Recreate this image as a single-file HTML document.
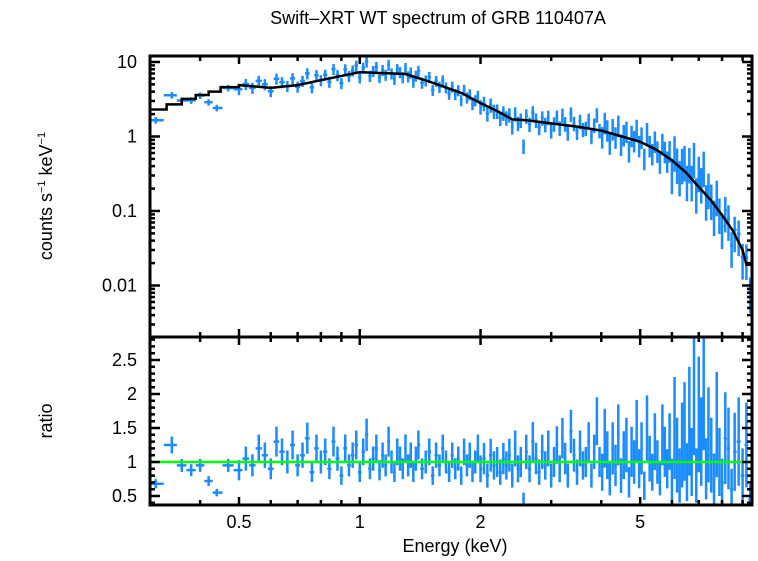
<!DOCTYPE html>
<html><head><meta charset="utf-8"><style>
body{margin:0;background:#fff}
svg text{font-family:"Liberation Sans",sans-serif;fill:#000}
</style></head><body>
<svg id="c" width="758" height="556" xmlns="http://www.w3.org/2000/svg">
<text x="438" y="24" font-size="18" text-anchor="middle">Swift–XRT WT spectrum of GRB 110407A</text>
<text transform="translate(52,196) rotate(-90)" font-size="18" text-anchor="middle">counts s<tspan font-size="11" dy="-7">−1</tspan><tspan dy="7"> keV</tspan><tspan font-size="11" dy="-7">−1</tspan></text>
<text transform="translate(52,421) rotate(-90)" font-size="18" text-anchor="middle">ratio</text>
<text x="455" y="552" font-size="18" text-anchor="middle">Energy (keV)</text>
<g id="g"></g>
</svg>
<script>
const modelE=[0.3,0.33,0.36,0.39,0.42,0.45,0.5,0.6,0.7,0.8,1.0,1.3,1.5,1.8,2.0,2.2,2.4,2.6,3.0,3.5,4.0,4.5,5.0,5.5,6.0,6.5,7.0,7.5,8.0,8.5,9.0,9.2,9.3,9.5];
const modelV=[2.3,2.7,3.2,3.6,4.0,4.6,4.9,4.5,4.9,5.7,7.3,6.9,5.4,3.8,2.8,2.2,1.7,1.65,1.5,1.35,1.2,1.0,0.85,0.66,0.48,0.33,0.21,0.14,0.088,0.055,0.03,0.019,0.019,0.019];
const dataE=[0.31,0.34,0.36,0.38,0.40,0.42,0.44,0.47,0.50,
0.52,0.54,0.56,0.58,0.60,0.62,0.64,0.66,0.68,0.70,
0.72,0.74,0.76,0.78,0.80,0.82,0.84,0.86,0.88,0.90,
0.92,0.94,0.96,0.98,1.00,1.02,1.04,1.06,1.08,1.10,
1.12,1.14,1.16,1.18,1.20,1.22,1.24,1.26,1.28,1.30,
1.32,1.34,1.36,1.38,1.40,1.43,1.46,1.49,1.52,1.55,
1.58,1.61,1.64,1.67,1.70,1.73,1.76,1.79,1.82,1.85,
1.88,1.91,1.94,1.97,2.00,2.04,2.08,2.12,2.16,2.20,
2.24,2.28,2.32,2.36,2.40,2.44,2.48,2.52,2.56,2.60,
2.65,2.70,2.75,2.80,2.85,2.90,2.95,3.00,3.05,3.10,
3.15,3.20,3.25,3.30,3.36,3.42,3.48,3.54,3.60,3.66,
3.72,3.78,3.84,3.90,3.96,4.02,4.08,4.14,4.20,4.27,
4.34,4.41,4.48,4.55,4.62,4.69,4.76,4.83,4.90,4.97,
5.04,5.12,5.20,5.28,5.36,5.44,5.52,5.60,5.68,5.76,
5.84,5.92,6.00,6.09,6.18,6.27,6.36,6.45,6.54,6.63,
6.72,6.81,6.90,7.00,7.10,7.20,7.30,7.40,7.52,7.64,
7.76,7.88,8.00,8.15,8.30,8.45,8.60,8.80,9.00,9.20,9.40];
const dataRatio=[0.68,1.25,0.95,0.88,0.95,0.72,0.55,0.95,0.88,
1.05,0.95,1.2,1.1,0.9,1.3,1.15,1.0,1.25,0.95,
1.1,1.35,0.85,1.2,1.0,1.15,0.9,1.3,1.05,0.8,
1.2,0.95,1.1,1.25,0.85,1.15,1.4,0.9,1.05,1.2,
0.88,1.1,0.95,1.3,1.0,0.85,1.15,1.05,0.9,1.2,
0.95,1.1,0.85,1.05,1.25,0.9,1.0,1.15,0.8,1.1,
0.95,1.2,1.0,0.85,1.1,0.9,1.05,0.8,1.15,0.95,
1.1,0.85,1.0,1.2,0.9,1.05,0.8,1.1,0.95,1.0,
0.85,1.05,0.95,1.1,0.8,1.2,0.9,1.0,0.45,1.15,
0.9,1.3,1.05,0.85,1.15,0.95,1.2,0.8,1.0,1.25,
0.9,1.35,1.05,0.8,1.45,1.1,0.85,1.2,0.95,1.0,
1.3,0.8,1.15,1.6,1.0,0.85,1.35,1.1,0.75,1.2,
0.95,1.4,0.8,1.1,1.25,0.7,1.15,1.0,1.45,0.9,
1.2,0.65,1.5,1.05,0.85,1.3,1.0,0.75,1.4,1.15,
0.9,1.3,0.7,1.5,1.1,0.8,1.25,1.45,0.85,1.6,
1.0,2.2,0.8,1.7,1.3,2.35,0.9,1.4,1.1,0.75,
1.55,1.0,0.7,1.35,1.2,0.6,1.15,1.3,0.8,1.25,0.45];
const xTicks=[0.5,1,2,5];
const yTopTicks=[10,1,0.1,0.01];
const yTopLabels=["10","1","0.1","0.01"];
const yBotTicks=[0.5,1,1.5,2,2.5];
const yBotLabels=["0.5","1","1.5","2","2.5"];

const X0=150,X1=752,T0=56,T1=337,B1=505;
const lx0=Math.log10(0.3),lx1=Math.log10(9.5);
const xs=e=>X0+(Math.log10(e)-lx0)/(lx1-lx0)*(X1-X0);
const ysT=v=>62+(1-Math.log10(v))*74.5;
const ysB=v=>462-(v-1)*68;
const g=document.getElementById('g');
const NS="http://www.w3.org/2000/svg";
function el(t,a){const e=document.createElementNS(NS,t);for(const k in a)e.setAttribute(k,a[k]);g.appendChild(e);return e;}
function model(e){for(let i=0;i<modelE.length-1;i++){if(e<modelE[i+1]){const f=(Math.log(e)-Math.log(modelE[i]))/(Math.log(modelE[i+1])-Math.log(modelE[i]));return Math.exp(Math.log(modelV[i])*(1-f)+Math.log(modelV[i+1])*f);}}return modelV[modelV.length-1];}
function clipT(y){return Math.max(T0,Math.min(T1,y));}
function clipB(y){return Math.max(T1,Math.min(B1,y));}

for(let i=0;i<dataE.length;i++){
  const e=dataE[i],r=dataRatio[i];
  const lo=i>0?Math.sqrt(dataE[i-1]*e):0.3, hi=i<dataE.length-1?Math.sqrt(dataE[i+1]*e):9.5;
  const er=e<0.5?0.1:e<2?0.17:e<4?0.22:e<6?0.32:0.5;
  const c=model(e)*r;
  const p1=el('path',{d:`M${xs(lo)},${clipT(ysT(c))}H${xs(hi)}M${xs(e)},${clipT(ysT(c*(1+er)))}V${clipT(ysT(Math.max(c*(1-er),0.001)))}`,stroke:'#1a8cff','stroke-width':2.5,fill:'none'});
  
  
  const p2=el('path',{d:`M${xs(lo)},${clipB(ysB(r))}H${xs(hi)}M${xs(e)},${clipB(ysB(r+er*r))}V${clipB(ysB(r-er*r))}`,stroke:'#1a8cff','stroke-width':2.5,fill:'none'});
  
  
}
let d=`M${X0},${ysT(modelV[0])}`;
for(let i=0;i<modelE.length-1;i++){
  if(modelE[i]<0.5){d+=`H${xs(modelE[i+1])}V${ysT(modelV[i+1])}`;}
  else{d+=`L${xs(modelE[i+1])},${ysT(modelV[i+1])}`;}
}
const m=el('path',{d:d,stroke:'#000','stroke-width':2.5,fill:'none'});


const ln=el('line',{x1:X0,x2:X1,y1:ysB(1),y2:ysB(1),stroke:'#00ff00','stroke-width':2.5});



const f=el('path',{d:`M${X0},${T0}H${X1}V${B1}H${X0}Z M${X0},${T1}H${X1}`,stroke:'#000','stroke-width':3,fill:'none'});


let tk='';
for(let dec=-1;dec<=0;dec++)for(let k=1;k<=9;k++){const e=k*Math.pow(10,dec);if(e<0.3||e>9.5)continue;const x=xs(e);const L=(k===1||k===5||k===2)?8:5;
 tk+=`M${x},${T0}v${L}M${x},${B1}v-${L}M${x},${T1}v${L}M${x},${T1}v-${L}`;}
for(let dec=-3;dec<=1;dec++)for(let k=1;k<=9;k++){const v=k*Math.pow(10,dec);const y=ysT(v);if(y<T0||y>T1)continue;const L=k===1?10:5;
 tk+=`M${X0},${y}h${L}M${X1},${y}h-${L}`;}
for(let v=0.4;v<=2.81;v+=0.1){const y=ysB(v);if(y<T1||y>B1)continue;const maj=Math.abs(v*2-Math.round(v*2))<0.01;const L=maj?10:5;tk+=`M${X0},${y}h${L}M${X1},${y}h-${L}`;}
const t=el('path',{d:tk,stroke:'#000','stroke-width':2.5,fill:'none'});


xTicks.forEach(v=>{const tx=el('text',{x:xs(v),y:528,'font-size':18,'text-anchor':'middle'});tx.textContent=v;
 
 });
yTopTicks.forEach((v,i)=>{const tx=el('text',{x:137,y:ysT(v)+6,'font-size':18,'text-anchor':'end'});tx.textContent=yTopLabels[i];
 
 });
yBotTicks.forEach((v,i)=>{const tx=el('text',{x:137,y:ysB(v)+6,'font-size':18,'text-anchor':'end'});tx.textContent=yBotLabels[i];
 
 });
</script>
</body></html>
